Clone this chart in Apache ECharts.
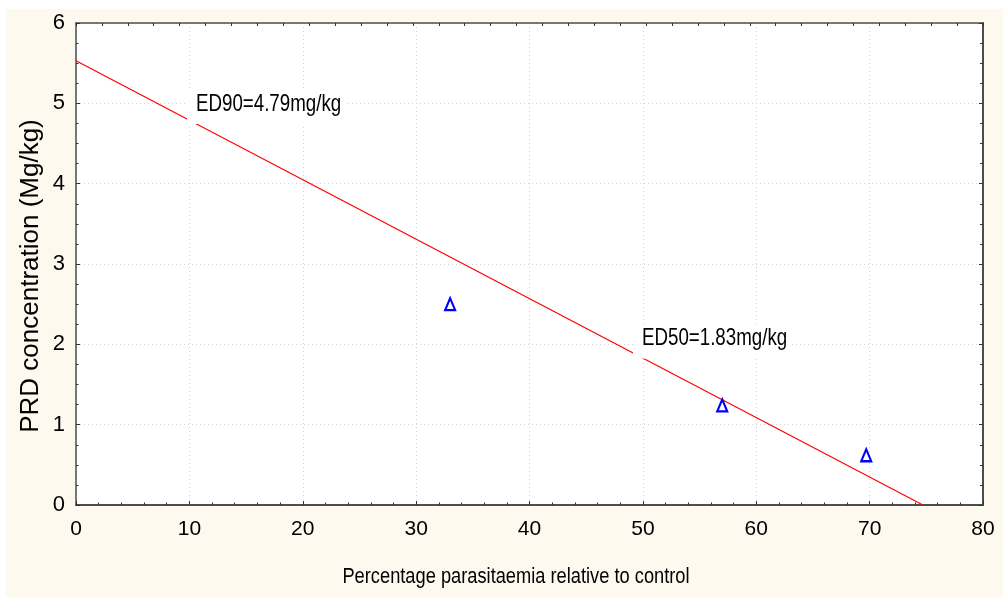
<!DOCTYPE html>
<html>
<head>
<meta charset="utf-8">
<script src="https://cdn.jsdelivr.net/npm/echarts@6/dist/echarts.min.js"></script>
<style>
  html, body { margin: 0; padding: 0; background: #ffffff; }
  #wrap { position: relative; width: 1003px; height: 599px; }
  #paper { position: absolute; left: 6px; top: 9px; width: 997px; height: 588px; background: #fef9ee; }
  #chart { position: absolute; left: 0; top: 0; width: 1003px; height: 599px; }
</style>
</head>
<body>
<div id="wrap">
  <div id="paper"></div>
  <div id="chart"></div>
</div>
<script>
// Observed points: parasitaemia (% of control) vs PRD dose
const parasitaemia = [33, 57, 69.7];
const concentration = [2.5, 1.24, 0.62];

// Fitted dose-response line (end points)
const fitX = [0, 74.7];
const fitY = [5.53, 0];

// Effective-dose annotations
const edNames = ['ED90', 'ED50'];
const edX = [10, 50];
const edY = [4.79, 1.83];
const edUnit = 'mg/kg';

// Axis ranges
const xRange = [0, 80, 10];
const yRange = [0, 6, 1];

const sans = '"Liberation Sans", Arial, sans-serif';

const chart = echarts.init(document.getElementById('chart'), null, { renderer: 'canvas' });

const frameLine = (w) => ({ show: true, onZero: false, lineStyle: { color: '#4d4d4d', width: w } });
const grid = { show: true, lineStyle: { color: '#d2d2d2', type: [1, 3], width: 1 } };

// nudges for each annotation box, in pixels
const edShift = [[0, 0], [-7.5, -3.4]];

function renderEd(params, api) {
  const i = api.value(2);
  const p = api.coord([api.value(0), api.value(1)]);
  const tx = p[0] + 6.6 + edShift[i][0];
  const ty = p[1] - 16.2 + edShift[i][1];
  return {
    type: 'group',
    children: [
      {
        type: 'rect',
        shape: { x: tx - 9, y: ty - 13, width: 158, height: 33 },
        style: { fill: '#ffffff' }
      },
      {
        type: 'text', x: tx, y: ty, scaleX: 0.78,
        style: {
          text: edNames[i] + '=' + api.value(1).toFixed(2) + edUnit,
          fill: '#000', font: '24px ' + sans, align: 'left', verticalAlign: 'middle'
        }
      }
    ]
  };
}

chart.setOption({
  animation: false,
  grid: { left: 76, top: 23, right: 20, bottom: 94, show: true, backgroundColor: '#ffffff', borderWidth: 0 },
  xAxis: [
    {
      type: 'value', position: 'bottom', min: xRange[0], max: xRange[1], interval: xRange[2],
      axisLine: frameLine(2),
      axisTick: { show: true, inside: true, length: 4, lineStyle: { color: '#333' } },
      minorTick: { show: true, splitNumber: 5, length: 2.5, lineStyle: { color: '#333' } },
      splitLine: grid,
      axisLabel: { color: '#000', fontFamily: sans, fontSize: 21, margin: 14 }
    },
    {
      type: 'value', position: 'top', min: 0, max: 35, interval: 1,
      axisLine: frameLine(1.5),
      axisTick: { show: true, inside: true, length: 3, lineStyle: { color: '#333' } },
      axisLabel: { show: false }, splitLine: { show: false }
    }
  ],
  yAxis: [
    {
      type: 'value', position: 'left', min: yRange[0], max: yRange[1], interval: yRange[2],
      axisLine: frameLine(1.5),
      axisTick: { show: true, inside: true, length: 4, lineStyle: { color: '#333' } },
      minorTick: { show: true, splitNumber: 4, length: 2.5, lineStyle: { color: '#333' } },
      splitLine: grid,
      axisLabel: { color: '#000', fontFamily: sans, fontSize: 22, margin: 11 }
    },
    {
      type: 'value', position: 'right', min: yRange[0], max: yRange[1], interval: yRange[2],
      axisLine: frameLine(2),
      axisTick: { show: true, inside: true, length: 4, lineStyle: { color: '#333' } },
      minorTick: { show: true, splitNumber: 4, length: 3, lineStyle: { color: '#333' } },
      axisLabel: { show: false }, splitLine: { show: false }
    }
  ],
  graphic: [
    {
      type: 'text', x: 516, y: 577, scaleX: 0.83,
      style: { text: 'Percentage parasitaemia relative to control', fill: '#000',
               font: '22px ' + sans, align: 'center', verticalAlign: 'middle' }
    },
    {
      type: 'text', x: 31, y: 276, rotation: Math.PI / 2,
      style: { text: 'PRD concentration (Mg/kg)', fill: '#000',
               font: '26px ' + sans, align: 'center', verticalAlign: 'middle' }
    }
  ],
  series: [
    {
      name: 'fit', type: 'line', z: 2,
      data: fitX.map((x, i) => [x, fitY[i]]),
      showSymbol: false, symbol: 'none',
      lineStyle: { color: '#ff0000', width: 1.2 },
      silent: true
    },
    {
      name: 'observed', type: 'scatter', z: 3,
      data: parasitaemia.map((x, i) => [x, concentration[i]]),
      symbol: 'triangle', symbolSize: [10, 12],
      itemStyle: { color: '#ffffff', borderColor: '#0000ff', borderWidth: 2.2, opacity: 1 }
    },
    {
      name: 'ed', type: 'custom', z: 4,
      coordinateSystem: 'cartesian2d',
      data: edX.map((x, i) => [x, edY[i], i]),
      encode: { x: 0, y: 1 },
      renderItem: renderEd,
      silent: true
    }
  ]
});
</script>
</body>
</html>
